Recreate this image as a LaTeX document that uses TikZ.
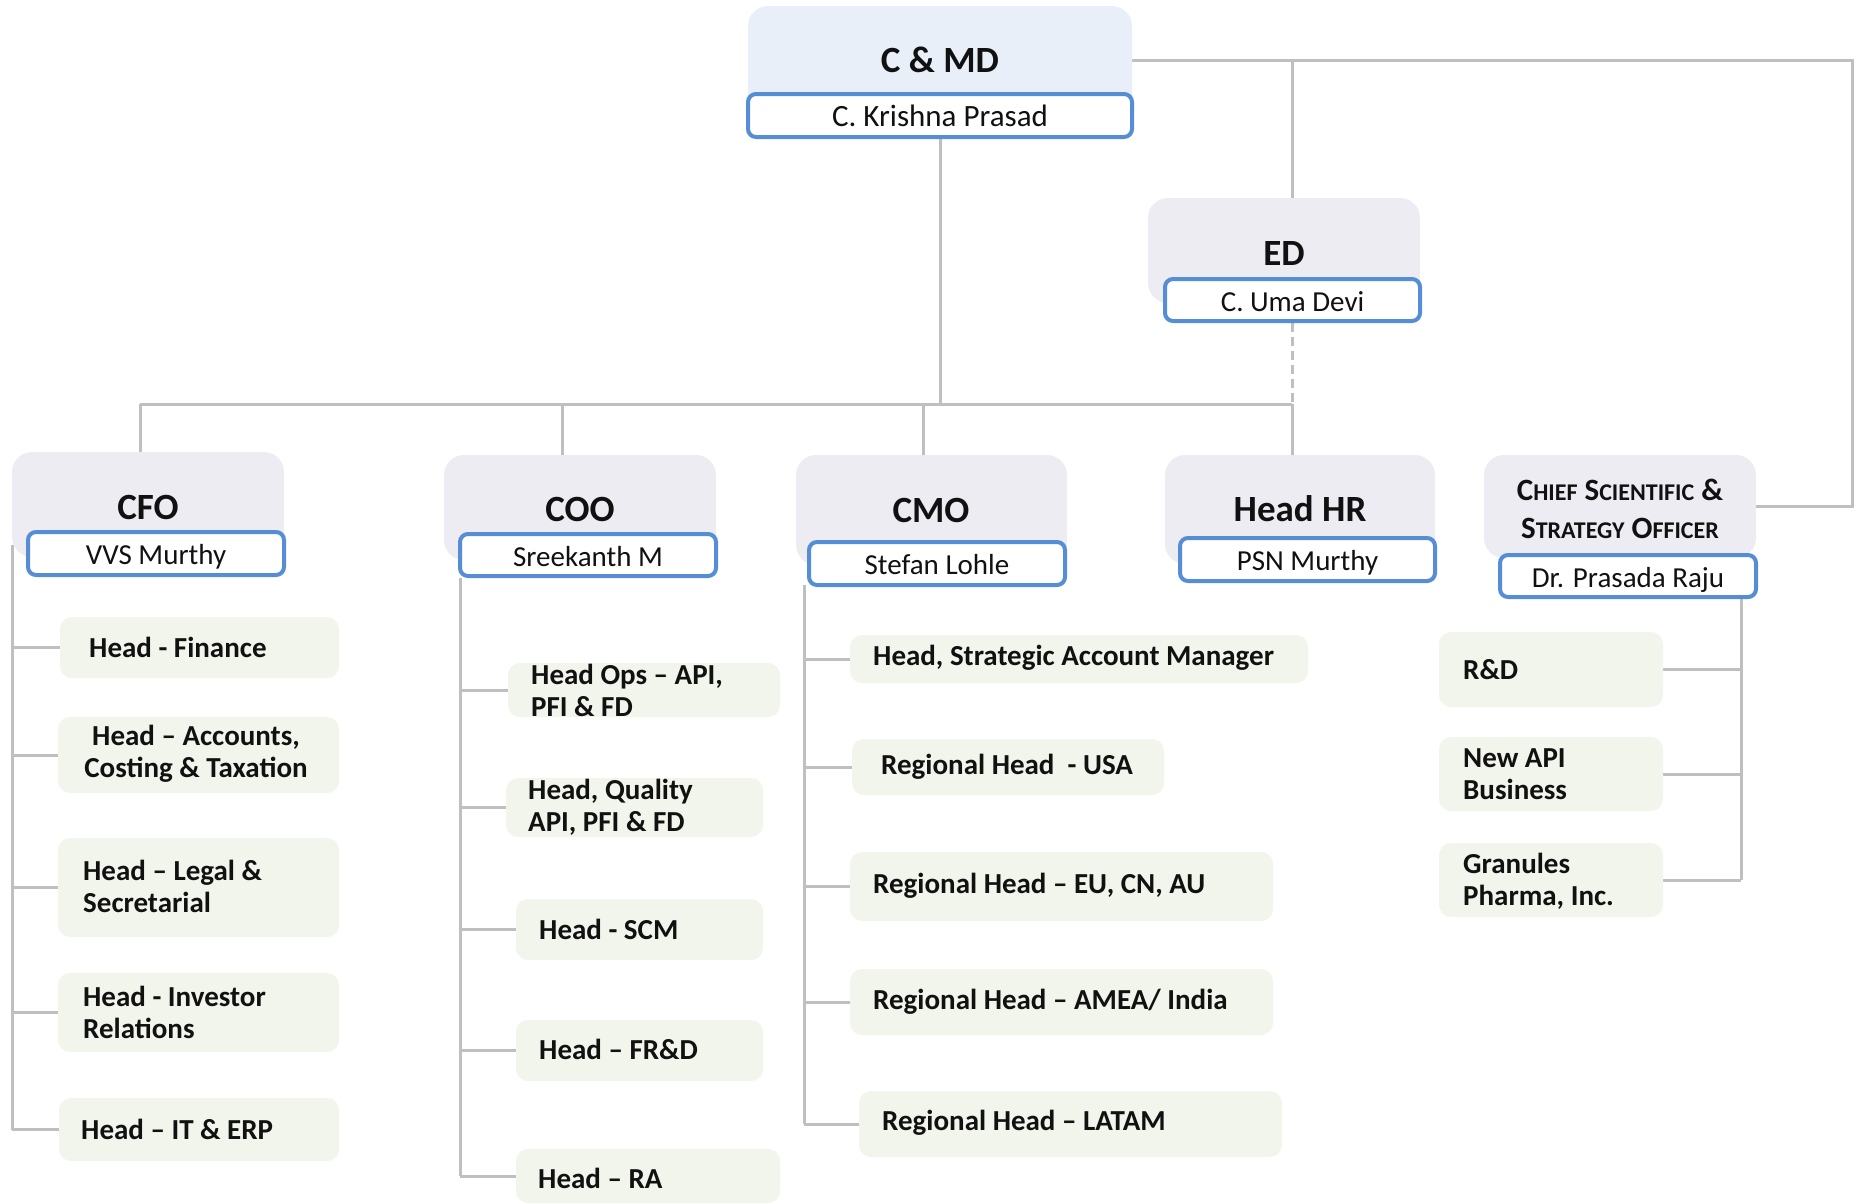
\documentclass[tikz,border=0pt]{standalone}
\usepackage{fontspec}
\setmainfont{Carlito}
\usetikzlibrary{backgrounds}
\definecolor{cmdfill}{RGB}{233,239,248}
\definecolor{headfill}{RGB}{238,236,243}
\definecolor{subfill}{RGB}{242,245,235}
\definecolor{nameblue}{RGB}{85,142,213}
\definecolor{linegray}{RGB}{191,191,191}
\definecolor{txt}{RGB}{17,17,17}
\newcommand\boxnode[7][]{%
  \pgfmathsetmacro\bxw{#5-#3}%
  \pgfmathsetmacro\bxh{#6-#4}%
  \node[#1, minimum width=\bxw pt, minimum height=\bxh pt] (#2) at ({(#3+#5)/2},{(#4+#6)/2}) {#7};}
\newcommand\fsc[2]{{\fontsize{31}{38}\selectfont #1}{\fontsize{24}{38}\selectfont #2}}
\begin{document}
\begin{tikzpicture}[x=1pt,y=-1pt,
  conn/.style={draw=linegray, line width=3pt},
  connd/.style={conn, dash pattern=on 9pt off 5pt},
  headbox/.style={fill=headfill, rounded corners=20pt, inner sep=0pt},
  topbox/.style={fill=cmdfill, rounded corners=20pt, inner sep=0pt},
  namebox/.style={draw=nameblue, line width=4pt, fill=white, rounded corners=8pt, inner sep=0pt,
    text=txt, font=\fontsize{29}{34}\selectfont, text height=24pt, text depth=2pt},
  titletext/.style={inner sep=0pt, text=txt, font=\bfseries\fontsize{37}{42}\selectfont},
  subbox/.style={fill=subfill, rounded corners=12pt, inner sep=0pt},
  subtext/.style={inner sep=0pt, text=txt, align=left, anchor=west,
    font=\bfseries\fontsize{29}{32}\selectfont},
]
\useasboundingbox (0,0) rectangle (1858,1203);

% ---------- top level ----------
\boxnode[topbox]{cmdBox}{748}{6}{1132}{114}{}
\node[titletext] (cmdT) at (940,60) {C \& MD};
\boxnode[namebox, font=\fontsize{31}{36}\selectfont]{cmdN}{748}{94}{1132}{137}{C. Krishna Prasad}

\boxnode[headbox]{edBox}{1148}{198}{1420}{303}{}
\node[titletext] (edT) at (1284,253) {ED};
\boxnode[namebox]{edN}{1165}{279}{1420}{321}{C. Uma Devi}

% ---------- second level ----------
\boxnode[headbox]{cfoBox}{12}{452}{284}{557}{}
\node[titletext] (cfoT) at (148,507) {CFO};
\boxnode[namebox]{cfoN}{28}{532}{284}{575}{VVS Murthy}

\boxnode[headbox]{cooBox}{444}{455}{716}{560}{}
\node[titletext] (cooT) at (580,509) {COO};
\boxnode[namebox]{cooN}{460}{534}{716}{576}{Sreekanth M}

\boxnode[headbox]{cmoBox}{796}{455}{1067}{565}{}
\node[titletext] (cmoT) at (931,510) {CMO};
\boxnode[namebox]{cmoN}{809}{542}{1065}{585}{Stefan Lohle}

\boxnode[headbox]{hrBox}{1165}{455}{1435}{564}{}
\node[titletext] (hrT) at (1300,509) {Head HR};
\boxnode[namebox]{hrN}{1180}{538}{1435}{581}{PSN Murthy}

\boxnode[headbox]{csoBox}{1484}{455}{1756}{558}{}
\node[inner sep=0pt, text=txt, align=center, font=\bfseries\fontsize{31}{38}\selectfont] (csoT) at (1620,509)
  {\fsc{C}{HIEF} \fsc{S}{CIENTIFIC} \&\\ \fsc{S}{TRATEGY} \fsc{O}{FFICER}};
\boxnode[namebox]{csoN}{1500}{555}{1756}{597}{Dr. Prasada Raju}

% ---------- CFO team ----------
\boxnode[subbox]{fin}{60}{617}{339}{678}{}
\node[subtext] (finT) at (89,647) {Head - Finance};
\boxnode[subbox]{acc}{58}{717}{339}{793}{}
\node[subtext, anchor=center, align=center] (accT) at (196,754) {Head – Accounts,\\Costing \& Taxation};
\boxnode[subbox]{leg}{58}{838}{339}{937}{}
\node[subtext] (legT) at (83,886) {Head – Legal \&\\Secretarial};
\boxnode[subbox]{inv}{58}{973}{339}{1052}{}
\node[subtext] (invT) at (83,1012) {Head - Investor\\Relations};
\boxnode[subbox]{itb}{59}{1098}{339}{1161}{}
\node[subtext] (itbT) at (81,1129) {Head – IT \& ERP};

% ---------- COO team ----------
\boxnode[subbox]{ops}{508}{663}{780}{717}{}
\node[subtext] (opsT) at (531,690) {Head Ops – API,\\PFI \& FD};
\boxnode[subbox]{qua}{506}{778}{763}{837}{}
\node[subtext] (quaT) at (528,807) {Head, Quality\\API, PFI \& FD};
\boxnode[subbox]{scm}{516}{899}{763}{960}{}
\node[subtext] (scmT) at (539,929) {Head - SCM};
\boxnode[subbox]{frd}{516}{1020}{763}{1081}{}
\node[subtext] (frdT) at (539,1049) {Head – FR\&D};
\boxnode[subbox]{ra}{516}{1149}{780}{1203}{}
\node[subtext] (raT) at (538,1178) {Head – RA};

% ---------- CMO team ----------
\boxnode[subbox]{sam}{850}{635}{1308}{683}{}
\node[subtext] (samT) at (873,658) {Head, Strategic Account Manager};
\boxnode[subbox]{usa}{852}{739}{1164}{795}{}
\node[subtext] (usaT) at (881,767) {Regional Head\ \ - USA};
\boxnode[subbox]{eu}{850}{852}{1273}{921}{}
\node[subtext] (euT) at (873,886) {Regional Head – EU, CN, AU};
\boxnode[subbox]{amea}{850}{969}{1273}{1035}{}
\node[subtext] (ameaT) at (873,1002) {Regional Head – AMEA/ India};
\boxnode[subbox]{lat}{859}{1091}{1282}{1157}{}
\node[subtext] (latT) at (882,1123) {Regional Head – LATAM};

% ---------- CSO team ----------
\boxnode[subbox]{rd}{1439}{632}{1663}{707}{}
\node[subtext] (rdT) at (1463,670) {R\&D};
\boxnode[subbox]{napi}{1439}{737}{1663}{811}{}
\node[subtext] (napiT) at (1463,774) {New API\\Business};
\boxnode[subbox]{gran}{1439}{843}{1663}{917}{}
\node[subtext] (granT) at (1463,881) {Granules\\Pharma, Inc.};

% ---------- connectors ----------
\coordinate (rc) at (1852,300);
\coordinate (edj) at (1292,60);
\coordinate (busL) at (140,404);
\coordinate (bus2) at (562,404);
\coordinate (bus3) at (923,404);
\coordinate (busR) at (1292,404);
\coordinate (cfoV) at (12,545);
\coordinate (cooV) at (460,578);
\coordinate (cmoV) at (804,585);
\coordinate (csoV) at (1741,597);

\begin{scope}[on background layer]
  \draw[conn] (cmdBox.east) -| (rc) |- (csoBox.east);
  \draw[conn] (edj) -- (edj |- edBox.north);
  \draw[conn] (cmdN.south) -- (cmdN.south |- busL);
  \draw[connd] (edN.south) -- (edN.south |- busR);
  \draw[conn] (busL) -- (busR);
  \draw[conn] (busL) -- (busL |- cfoBox.north);
  \draw[conn] (bus2) -- (bus2 |- cooBox.north);
  \draw[conn] (bus3) -- (bus3 |- cmoBox.north);
  \draw[conn] (busR) -- (busR |- hrBox.north);
  % CFO
  \draw[conn] (cfoV) -- (cfoV |- itb.west);
  \foreach \b in {fin,acc,leg,inv,itb} \draw[conn] (cfoV |- \b.west) -- (\b.west);
  % COO
  \draw[conn] (cooV) -- (cooV |- ra.west);
  \foreach \b in {ops,qua,scm,frd,ra} \draw[conn] (cooV |- \b.west) -- (\b.west);
  % CMO
  \draw[conn] (cmoV) -- (cmoV |- lat.west);
  \foreach \b in {sam,usa,eu,amea,lat} \draw[conn] (cmoV |- \b.west) -- (\b.west);
  % CSO
  \draw[conn] (csoV) -- (csoV |- gran.east);
  \foreach \b in {rd,napi,gran} \draw[conn] (csoV |- \b.east) -- (\b.east);
\end{scope}
\end{tikzpicture}
\end{document}
